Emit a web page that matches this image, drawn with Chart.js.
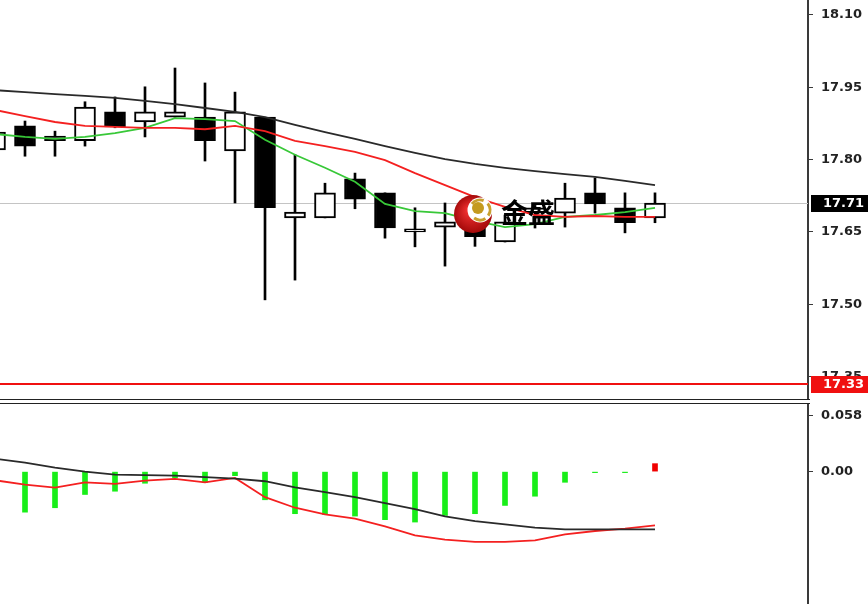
<!DOCTYPE html>
<html>
<head>
<meta charset="utf-8">
<script src="https://cdn.jsdelivr.net/npm/chart.js@4.4.1/dist/chart.umd.min.js"></script>
<style>
  html, body { margin: 0; padding: 0; background: #fff; }
  #wrap { position: relative; width: 868px; height: 604px; overflow: hidden; }
  #priceBox { position: absolute; left: 0; top: 0; width: 868px; height: 400px; }
  #macdBox { position: absolute; left: 0; top: 400px; width: 868px; height: 204px; }
</style>
</head>
<body>
<div id="wrap">
  <div id="priceBox"><canvas id="priceChart"></canvas></div>
  <div id="macdBox"><canvas id="macdChart"></canvas></div>
</div>
<script>
// candles (bar 0 sits just past the left edge)
const opens  = [17.820, 17.870, 17.839, 17.839, 17.899, 17.878, 17.888, 17.888, 17.818, 17.888, 17.679, 17.679, 17.760, 17.731, 17.650, 17.660, 17.665, 17.629, 17.690, 17.689, 17.731, 17.700, 17.679];
const highs  = [17.870, 17.880, 17.859, 17.920, 17.930, 17.951, 17.990, 17.959, 17.940, 17.888, 17.810, 17.751, 17.772, 17.731, 17.700, 17.710, 17.700, 17.685, 17.705, 17.751, 17.762, 17.731, 17.731];
const lows   = [17.810, 17.807, 17.807, 17.828, 17.866, 17.847, 17.888, 17.797, 17.710, 17.509, 17.550, 17.679, 17.698, 17.637, 17.619, 17.579, 17.620, 17.629, 17.658, 17.660, 17.689, 17.648, 17.669];
const closes = [17.857, 17.828, 17.849, 17.909, 17.868, 17.899, 17.899, 17.839, 17.899, 17.700, 17.691, 17.731, 17.718, 17.658, 17.650, 17.671, 17.640, 17.671, 17.700, 17.720, 17.708, 17.669, 17.710];

// moving averages
const maSlow = [17.944, 17.940, 17.936, 17.932, 17.928, 17.922, 17.915, 17.907, 17.899, 17.888, 17.872, 17.857, 17.843, 17.828, 17.814, 17.801, 17.791, 17.783, 17.776, 17.770, 17.764, 17.756, 17.747];
const maMid  = [17.903, 17.890, 17.878, 17.870, 17.868, 17.866, 17.866, 17.863, 17.870, 17.859, 17.839, 17.828, 17.816, 17.799, 17.772, 17.747, 17.722, 17.702, 17.685, 17.681, 17.683, 17.681, 17.681];
const maFast = [17.853, 17.847, 17.843, 17.847, 17.855, 17.866, 17.886, 17.884, 17.880, 17.841, 17.810, 17.783, 17.754, 17.708, 17.693, 17.689, 17.673, 17.660, 17.666, 17.681, 17.685, 17.691, 17.700];

// lower pane
const macdHist   = [-0.0450, -0.0422, -0.0376, -0.0238, -0.0204, -0.0121, -0.0066, -0.0111, -0.0042, -0.0293, -0.0438, -0.0446, -0.0463, -0.0500, -0.0525, -0.0456, -0.0438, -0.0352, -0.0256, -0.0111, -0.0010, -0.0010, 0.0083];
const macdMain   = [0.0135, 0.0093, 0.0041, 0.0000, -0.0031, -0.0036, -0.0041, -0.0057, -0.0073, -0.0100, -0.0163, -0.0214, -0.0266, -0.0328, -0.0391, -0.0466, -0.0515, -0.0549, -0.0584, -0.0601, -0.0601, -0.0601, -0.0601];
const macdSignal = [-0.0090, -0.0135, -0.0166, -0.0111, -0.0127, -0.0093, -0.0076, -0.0111, -0.0065, -0.0266, -0.0376, -0.0445, -0.0490, -0.0570, -0.0663, -0.0708, -0.0732, -0.0732, -0.0715, -0.0653, -0.0618, -0.0594, -0.0559];

// axis ticks and price levels
const priceTicks = [18.10, 17.95, 17.80, 17.65, 17.50, 17.35];
const macdTicks = [0.058, 0.00];
const macdTickLabels = ["0.058", "0.00"];
const levelValues = [17.71, 17.334];
const levelLabels = ["17.71", "17.33"];

const idx = opens.map((_, i) => i);
const axisFont = { family: "DejaVu Sans", size: 13, weight: "bold" };
const axisColor = "#3a3a3a";

const pts = (arr) => arr.map((v, i) => ({ x: idx[i], y: v }));

const xScale = {
  type: "linear",
  display: false,
  offset: false,
  min: 1 / 6,
  max: 27.1,
};

const rightAxis = (extra) => ({
  position: "right",
  afterFit: (scale) => {
    scale.width = 60;
    scale.paddingTop = 0;
    scale.paddingBottom = 0;
  },
  border: { display: true, color: axisColor, width: 2 },
  grid: { display: true, drawOnChartArea: false, drawTicks: true, tickLength: 5, color: axisColor },
  ...extra,
});

// frame line at the bottom / top of a pane
const paneFrame = {
  id: "paneFrame",
  afterDraw(chart, args, opts) {
    const { ctx, chartArea } = chart;
    ctx.save();
    ctx.strokeStyle = "#222";
    ctx.lineWidth = 1;
    ctx.beginPath();
    const y = opts.edge === "top" ? chartArea.top - 0.5 : chartArea.bottom + 0.5;
    ctx.moveTo(0, y);
    ctx.lineTo(chartArea.right + 2, y);
    ctx.stroke();
    ctx.restore();
  },
};

// bid line and alert line behind the candles
const levelLines = {
  id: "levelLines",
  beforeDatasetsDraw(chart) {
    const { ctx, chartArea, scales } = chart;
    ctx.save();
    levelValues.forEach((v, i) => {
      const y = Math.round(scales.y.getPixelForValue(v));
      ctx.strokeStyle = i === 0 ? "#c4c4c4" : "#f01010";
      ctx.lineWidth = i === 0 ? 1 : 2;
      ctx.beginPath();
      ctx.moveTo(chartArea.left, i === 0 ? y + 0.5 : y);
      ctx.lineTo(chartArea.right, i === 0 ? y + 0.5 : y);
      ctx.stroke();
    });
    ctx.restore();
  },
  afterDraw(chart) {
    const { ctx, chartArea, scales } = chart;
    ctx.save();
    ctx.font = "bold 13px 'DejaVu Sans'";
    ctx.textBaseline = "middle";
    levelValues.forEach((v, i) => {
      const y = Math.round(scales.y.getPixelForValue(v));
      ctx.fillStyle = i === 0 ? "#000" : "#f01010";
      ctx.fillRect(chartArea.right + 3, y - 8, 60, 17);
      ctx.fillStyle = "#fff";
      ctx.fillText(levelLabels[i], chartArea.right + 15, y + 1);
    });
    ctx.restore();
  },
};

// 金盛 watermark
const logo = {
  id: "logo",
  afterDatasetsDraw(chart) {
    const { ctx } = chart;
    const cx = 473, cy = 214;
    ctx.save();
    const g = ctx.createRadialGradient(cx - 4, cy - 4, 2, cx, cy, 20);
    g.addColorStop(0, "#f03030");
    g.addColorStop(1, "#a00808");
    ctx.fillStyle = g;
    ctx.beginPath();
    ctx.arc(cx, cy, 19, 0, Math.PI * 2);
    ctx.fill();
    ctx.fillStyle = "#fff";
    ctx.beginPath();
    ctx.arc(cx + 7, cy - 4, 12.5, 0, Math.PI * 2);
    ctx.fill();
    ctx.strokeStyle = "#c9a030";
    ctx.lineWidth = 3;
    [[-2.5, -1.2], [-0.7, 0.6], [1.0, 2.2]].forEach(([a, b]) => {
      ctx.beginPath();
      ctx.arc(cx + 7, cy - 4, 10, a, b);
      ctx.stroke();
    });
    ctx.fillStyle = "#c49a20";
    ctx.beginPath();
    ctx.arc(cx + 5, cy - 6, 6, 0, Math.PI * 2);
    ctx.fill();
    ctx.fillStyle = "#000";
    ctx.font = "bold 27px 'Noto Sans CJK SC'";
    ctx.textBaseline = "middle";
    ctx.fillText("金盛", 501, 213);
    ctx.restore();
  },
};

new Chart(document.getElementById("priceChart"), {
  type: "bar",
  data: {
    datasets: [
      { type: "line", label: "MA slow", data: pts(maSlow), borderColor: "#2a2a2a", borderWidth: 1.8, pointRadius: 0, order: 0 },
      { type: "line", label: "MA mid", data: pts(maMid), borderColor: "#f42020", borderWidth: 1.8, pointRadius: 0, order: 0 },
      { type: "line", label: "MA fast", data: pts(maFast), borderColor: "#38c838", borderWidth: 1.8, pointRadius: 0, order: 0 },
      {
        label: "body",
        data: idx.map((i) => ({ x: i, y: [opens[i], closes[i]] })),
        backgroundColor: (c) => (closes[c.dataIndex] >= opens[c.dataIndex] ? "#fff" : "#000"),
        borderColor: "#000",
        borderWidth: 2,
        borderSkipped: false,
        barThickness: 21,
        minBarLength: 3,
        grouped: false,
        order: 1,
      },
      {
        label: "wick",
        data: idx.map((i) => ({ x: i, y: [lows[i], highs[i]] })),
        backgroundColor: "#000",
        barThickness: 2,
        grouped: false,
        order: 2,
      },
    ],
  },
  options: {
    responsive: true,
    maintainAspectRatio: false,
    animation: false,
    layout: { padding: { top: 0, right: 0, bottom: 1, left: 0 } },
    plugins: { legend: { display: false }, tooltip: { enabled: false }, paneFrame: { edge: "bottom" } },
    scales: {
      x: xScale,
      y: rightAxis({
        min: 17.3033,
        max: 18.1311,
        afterBuildTicks: (scale) => { scale.ticks = priceTicks.map((v) => ({ value: v })); },
        ticks: { color: "#222", font: axisFont, padding: 8, autoSkip: false, callback: (v) => v.toFixed(2) },
      }),
    },
  },
  plugins: [levelLines, paneFrame, logo],
});

new Chart(document.getElementById("macdChart"), {
  type: "bar",
  data: {
    datasets: [
      { type: "line", label: "main", data: pts(macdMain), borderColor: "#2a2a2a", borderWidth: 1.8, pointRadius: 0, order: 0 },
      { type: "line", label: "signal", data: pts(macdSignal), borderColor: "#f42020", borderWidth: 1.8, pointRadius: 0, order: 0 },
      {
        label: "hist",
        data: pts(macdHist),
        backgroundColor: (c) => (macdHist[c.dataIndex] >= 0 ? "#f00000" : "#18ee18"),
        barThickness: 5,
        minBarLength: 1,
        grouped: false,
        order: 1,
      },
    ],
  },
  options: {
    responsive: true,
    maintainAspectRatio: false,
    animation: false,
    layout: { padding: { top: 4, right: 0, bottom: 0, left: 0 } },
    plugins: { legend: { display: false }, tooltip: { enabled: false }, paneFrame: { edge: "top" } },
    scales: {
      x: xScale,
      y: rightAxis({
        min: -0.1378,
        max: 0.0704,
        afterBuildTicks: (scale) => { scale.ticks = macdTicks.map((v) => ({ value: v })); },
        ticks: {
          color: "#222",
          font: axisFont,
          padding: 8,
          autoSkip: false,
          callback: (v) => macdTickLabels[macdTicks.indexOf(v)] ?? "",
        },
      }),
    },
  },
  plugins: [paneFrame],
});
</script>
</body>
</html>
